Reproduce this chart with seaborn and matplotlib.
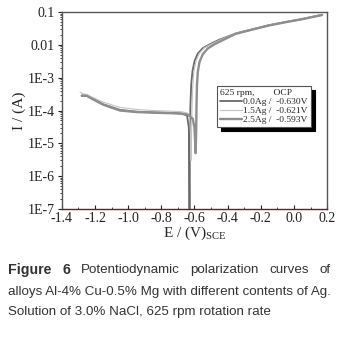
import matplotlib
matplotlib.use('Agg')
import matplotlib.pyplot as plt
import numpy as np
import pandas as pd
import seaborn as sns

sns.set_style('ticks')
plt.rcParams['font.family'] = ['Liberation Serif', 'DejaVu Serif']
plt.rcParams['mathtext.fontset'] = 'stix'

# polarization curves (E in V vs SCE, I in A)
E_00 = [-1.28, -1.25, -1.22, -1.15, -1.05, -0.95, -0.85, -0.75, -0.68, -0.645, -0.634, -0.630,
        -0.628, -0.625, -0.620, -0.612, -0.600, -0.58, -0.55, -0.50, -0.45, -0.35, -0.25, -0.15, -0.05, 0.05, 0.17]
I_00 = [2.9e-4, 2.9e-4, 2.4e-4, 1.55e-4, 1.05e-4, 9.2e-5, 8.8e-5, 8.5e-5, 8.2e-5, 7.0e-5, 3.0e-5, 1.0e-7,
        1.0e-5, 1.2e-4, 6e-4, 1.6e-3, 3.2e-3, 5.5e-3, 8e-3, 1.1e-2, 1.45e-2, 2.25e-2, 3.0e-2, 4.0e-2, 5.0e-2, 6.2e-2, 8.3e-2]

E_15 = [-1.29, -1.27, -1.25, -1.22, -1.15, -1.05, -0.95, -0.85, -0.75, -0.68, -0.645, -0.630, -0.624, -0.621,
        -0.618, -0.615, -0.610, -0.603, -0.590, -0.57, -0.54, -0.49, -0.44, -0.35, -0.25, -0.15, -0.05, 0.05, 0.17]
I_15 = [3.6e-4, 3.2e-4, 3.1e-4, 2.6e-4, 1.8e-4, 1.25e-4, 1.08e-4, 1.0e-4, 9.6e-5, 9.2e-5, 8.5e-5, 6.5e-5, 2.0e-5, 3.0e-6,
        1.5e-5, 1.2e-4, 6e-4, 1.6e-3, 3.3e-3, 5.6e-3, 8.2e-3, 1.12e-2, 1.47e-2, 2.3e-2, 3.05e-2, 4.05e-2, 5.1e-2, 6.3e-2, 8.4e-2]

E_25 = [-1.28, -1.25, -1.22, -1.15, -1.05, -0.95, -0.85, -0.75, -0.68, -0.64, -0.625, -0.61, -0.600, -0.593,
        -0.590, -0.588, -0.585, -0.580, -0.570, -0.55, -0.52, -0.48, -0.43, -0.35, -0.25, -0.15, -0.05, 0.05, 0.17]
I_25 = [2.8e-4, 2.8e-4, 2.3e-4, 1.5e-4, 1.0e-4, 9.0e-5, 8.6e-5, 8.3e-5, 8.0e-5, 7.5e-5, 6.5e-5, 5.5e-5, 3.0e-5, 5.0e-6,
        2.0e-5, 1.2e-4, 6e-4, 1.5e-3, 3.0e-3, 5.2e-3, 7.8e-3, 1.05e-2, 1.4e-2, 2.2e-2, 2.95e-2, 3.95e-2, 4.95e-2, 6.1e-2, 8.2e-2]

labels = ['0.0Ag /  -0.630V', '1.5Ag /  -0.621V', '2.5Ag /  -0.593V']
x_ticks = [-1.4, -1.2, -1.0, -0.8, -0.6, -0.4, -0.2, 0.0, 0.2]
x_ticklabels = ['-1.4', '-1.2', '-1.0', '-0.8', '-0.6', '-0.4', '-0.2', '0.0', '0.2']
y_ticks = [1e-7, 1e-6, 1e-5, 1e-4, 1e-3, 1e-2, 1e-1]
y_ticklabels = ['1E-7', '1E-6', '1E-5', '1E-4', '1E-3', '0.01', '0.1']

caption_words = ['Figure', '6', 'Potentiodynamic', 'polarization', 'curves', 'of']
caption_line2 = 'alloys Al-4% Cu-0.5% Mg with different contents of Ag.'
caption_line3 = 'Solution of 3.0% NaCl, 625 rpm rotation rate'

fig = plt.figure(figsize=(3.4, 3.38), dpi=100)
ax = fig.add_axes([0.182, 0.382, 0.78, 0.582])

styles = [('#6a6a6a', 1.3), ('#c4c4c4', 0.8), ('#8e8e8e', 1.7)]
for (E, I), lab, (c, lw) in zip([(E_00, I_00), (E_15, I_15), (E_25, I_25)], labels, styles):
    df = pd.DataFrame({'E': E, 'I': I})
    sns.lineplot(data=df, x='E', y='I', sort=False, estimator=None, ax=ax,
                 color=c, lw=lw, label=lab)

ax.set_yscale('log')
ax.set_xlim(-1.4, 0.2)
ax.set_ylim(1e-7, 0.1)
ax.set_xticks(x_ticks)
ax.set_xticklabels(x_ticklabels)
ax.set_xticks(np.arange(-1.3, 0.2, 0.2), minor=True)
ax.set_yticks(y_ticks)
ax.set_yticklabels(y_ticklabels)
ax.tick_params(axis='both', labelsize=10, colors='#222222', length=3, width=0.8, pad=2)
ax.tick_params(axis='x', direction='in', top=False)
ax.tick_params(axis='y', direction='out')
ax.tick_params(which='minor', length=1.8, width=0.6)
ax.tick_params(axis='x', which='minor', direction='in')
for s in ax.spines.values():
    s.set_color('#555555')
    s.set_linewidth(1.0)
ax.spines['bottom'].set_color('#4a2a2a')

ax.set_xlabel('E / (V)$_{\\mathregular{SCE}}$', fontsize=11, labelpad=0)
ax.set_ylabel('I / (A)', fontsize=11, labelpad=1)

leg = ax.legend(title='625 rpm,        OCP', loc='upper left', bbox_to_anchor=(0.585, 0.625),
                fontsize=6.8, title_fontsize=6.8, frameon=True,
                shadow={'color': 'black', 'ox': 3, 'oy': -3, 'alpha': 1}, fancybox=False,
                handlelength=2.3, handletextpad=0.2, borderpad=0.3, labelspacing=0.05,
                borderaxespad=0)
leg._legend_box.align = 'left'
leg.get_frame().set_edgecolor('#555555')
leg.get_frame().set_linewidth(0.8)

# caption below the chart, first line justified between x=8 and x=331 px
cap_font = ['Liberation Sans', 'DejaVu Sans']
y1 = 1 - 270 / 338
texts = []
for i, w in enumerate(caption_words):
    bold = i < 2
    t = fig.text(0, y1, w, family=cap_font, fontsize=10.2 if bold else 9.6,
                 fontweight='bold' if bold else 'normal', color='#333333', va='center')
    texts.append(t)
r = fig.canvas.get_renderer()
widths = [t.get_window_extent(r).width for t in texts]
gap = (331 - 8 - sum(widths)) / (len(texts) - 1)
x = 8
for t, w in zip(texts, widths):
    t.set_x(x / 340)
    x += w + gap
fig.text(8 / 340, 1 - 292 / 338, caption_line2, family=cap_font, fontsize=9.6, color='#333333', va='center')
fig.text(8 / 340, 1 - 312 / 338, caption_line3, family=cap_font, fontsize=9.6, color='#333333', va='center')

fig.savefig('out.png', dpi=100)
